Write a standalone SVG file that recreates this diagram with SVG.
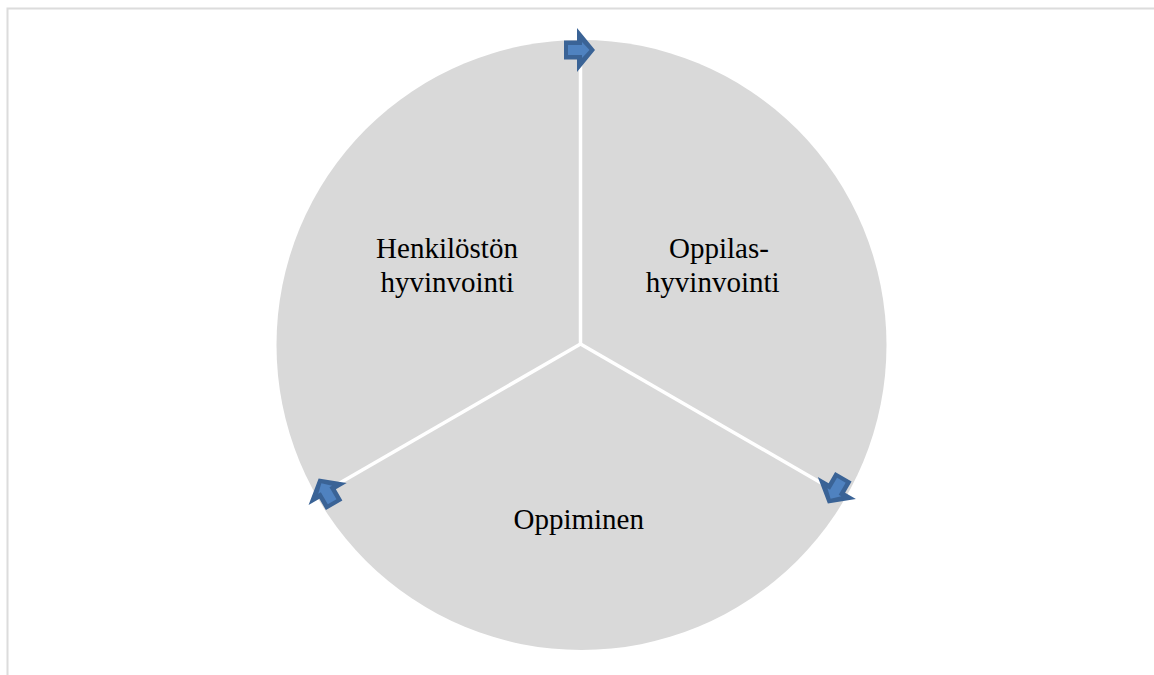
<svg xmlns="http://www.w3.org/2000/svg" width="1154" height="675" viewBox="0 0 1154 675">
<style>
.lbl{font-family:"Liberation Serif","Times New Roman",serif;font-size:29px;fill:#000;text-anchor:middle}
.gap{stroke:#fff;stroke-width:3.5;fill:none}
.aout{fill:#3a6396}
.ain{fill:#4f82c0}
</style>
<defs>
<g id="arrow">
<polygon class="aout" points="-16,-9.5 -3,-9.5 -3,-22 15,0 -3,22 -3,9.5 -16,9.5"/>
<polygon class="ain" points="-12,-5 2,-5 2,-8 9.5,0 2,8 2,5 -12,5"/>
</g>
</defs>
<rect width="1154" height="675" fill="#fff"/>
<path d="M7.5 675 V8.5 H1154" fill="none" stroke="#dcdcdc" stroke-width="2"/>
<g id="wheel">
<circle cx="581.5" cy="345" r="305" fill="#d9d9d9"/>
</g>
<g id="connectors">
<line class="gap" x1="580.5" y1="344" x2="580.5" y2="39"/>
<line class="gap" x1="580.5" y1="344" x2="580.5" y2="39" transform="rotate(120 580.5 344)"/>
<line class="gap" x1="580.5" y1="344" x2="580.5" y2="39" transform="rotate(240 580.5 344)"/>
<use href="#arrow" transform="rotate(0 580.5 344) translate(580 50)"/>
<use href="#arrow" transform="rotate(120 580.5 344) translate(580 50)"/>
<use href="#arrow" transform="rotate(240 580.5 344) translate(580 50)"/>
</g>
<g id="node-henkilosto">
<text class="lbl" x="447" y="258">Henkilöstön</text>
<text class="lbl" x="447.3" y="291.5">hyvinvointi</text>
</g>
<g id="node-oppilas">
<text class="lbl" x="719" y="258">Oppilas-</text>
<text class="lbl" x="712.7" y="291.5">hyvinvointi</text>
</g>
<g id="node-oppiminen">
<text class="lbl" x="578.7" y="528.5">Oppiminen</text>
</g>
</svg>
